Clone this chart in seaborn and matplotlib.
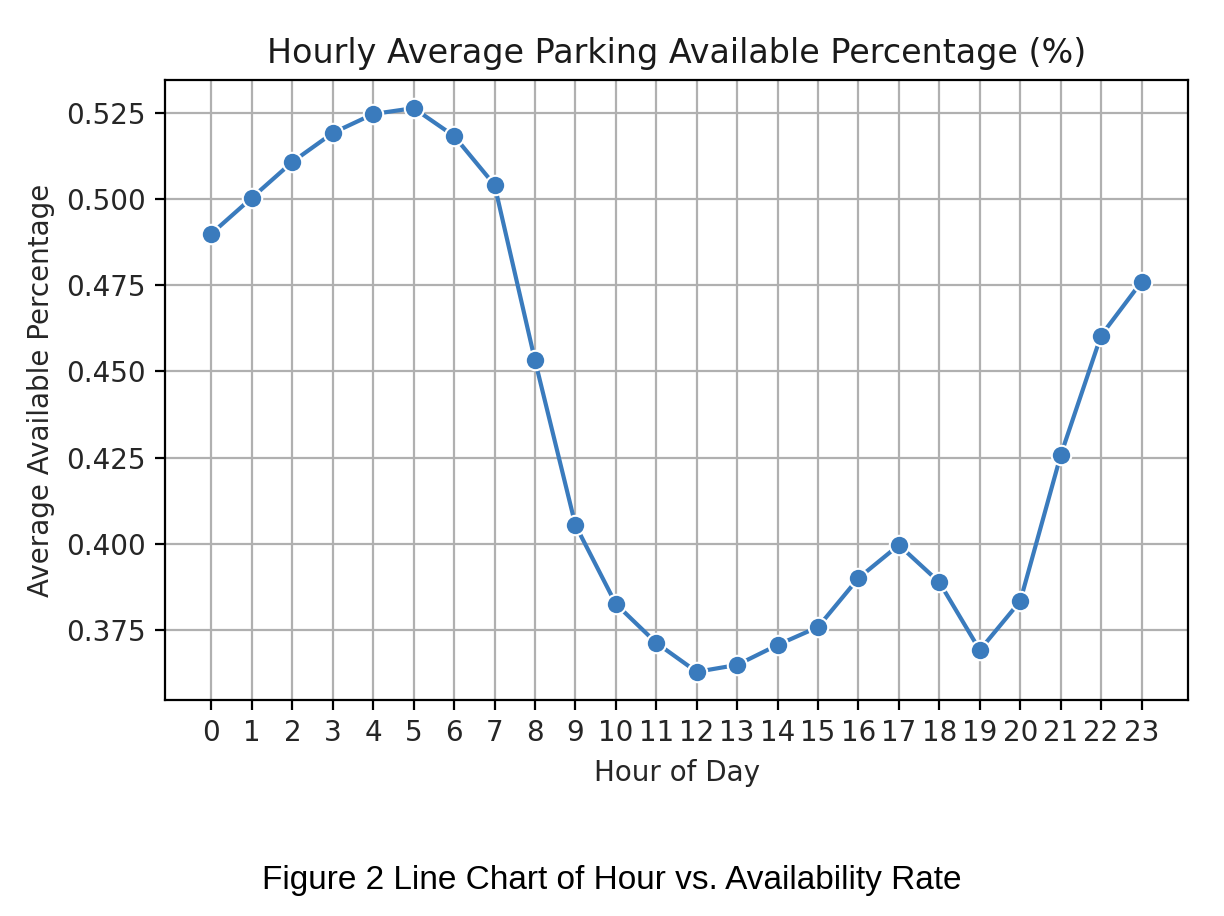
import numpy as np
import matplotlib
matplotlib.use("Agg")
import matplotlib.pyplot as plt
from matplotlib.ticker import MultipleLocator
import seaborn as sns
import pandas as pd

# hourly averages
hours = list(range(24))
avail_pct = [0.4900, 0.5004, 0.5108, 0.5192, 0.5247, 0.5264, 0.5183, 0.5041,
             0.4532, 0.4054, 0.3825, 0.3712, 0.3628, 0.3648, 0.3706, 0.3758,
             0.3900, 0.3996, 0.3888, 0.3691, 0.3833, 0.4256, 0.4604, 0.4760]

title = "Hourly Average Parking Available Percentage (%)"
caption = "Figure 2 Line Chart of Hour vs. Availability Rate"

plt.rcParams['font.family'] = ['DejaVu Sans']

df = pd.DataFrame({'hour': hours, 'avail': avail_pct})

fig = plt.figure(figsize=(6.12, 4.58), dpi=200)
ax = fig.add_axes([0.1348, 0.2358, 0.8358, 0.6769])

sns.lineplot(data=df, x='hour', y='avail', marker='o', markersize=7,
             color='#3a7bbd', ax=ax)

ax.set_xticks(hours)
ax.yaxis.set_major_locator(MultipleLocator(0.025))
ax.set_title(title, color='#1a1a1a')
ax.set_xlabel('Hour of Day', color='#262626')
ax.set_ylabel('Average Available Percentage', color='#262626')
ax.tick_params(labelcolor='#262626')
ax.grid(True)

fig.text(0.5, 0.039, caption, ha='center', va='center',
         fontsize=12, family='Liberation Sans')

plt.savefig('out.png', dpi=200)
